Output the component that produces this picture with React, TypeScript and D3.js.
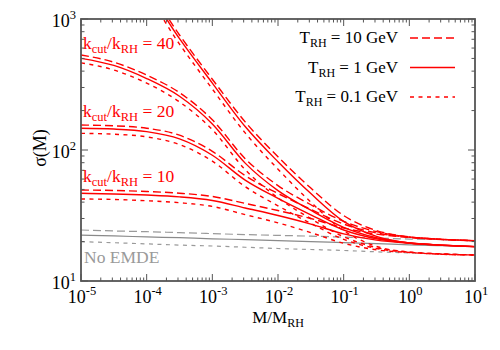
import React from "react";
import * as d3 from "d3";

// M / M_RH sample points
const MASS = [1e-5, 3.162e-5, 1e-4, 3.162e-4, 1e-3, 3.162e-3, 1e-2, 3.162e-2, 0.1, 0.3162, 1, 3.162, 10];

// sigma(M) series: [T_RH = 10 GeV (long dash), 1 GeV (solid), 0.1 GeV (short dash)]
const STEEP_10 = [3767, 2992, 1766, 755, 347, 164, 88.7, 51.2, 31.6, 24.3, 21.7, 20.8, 20.3];
const STEEP_1 = [3548, 2818, 1660, 708, 324, 151, 81.3, 46.5, 28.5, 21.9, 19.5, 18.8, 18.3];
const STEEP_01 = [3236, 2570, 1514, 643, 292, 135, 71.4, 40.0, 24.2, 18.4, 16.6, 16.1, 15.8];

const K40_10 = [531, 468, 373, 274, 170, 85.9, 53.5, 38.2, 28.5, 23.8, 21.7, 20.8, 20.3];
const K40_1 = [501, 442, 351, 257, 158, 79.4, 49.0, 34.7, 25.7, 21.4, 19.5, 18.8, 18.3];
const K40_01 = [463, 408, 324, 233, 143, 70.8, 43.1, 29.9, 21.8, 18.0, 16.6, 16.1, 15.8];

const K20_10 = [155, 153, 146.6, 129.7, 97.7, 63.7, 46.6, 35.2, 27.2, 23.3, 21.6, 20.8, 20.3];
const K20_1 = [146.6, 144.5, 138, 121.6, 91.2, 58.9, 42.7, 32.0, 24.5, 21.0, 19.5, 18.75, 18.3];
const K20_01 = [134, 132, 126, 110, 82.2, 52.5, 37.5, 27.5, 20.8, 17.7, 16.6, 16.0, 15.8];

const K10_10 = [49.5, 49.1, 48.2, 46.8, 44.2, 39.1, 34.5, 30.0, 25.4, 22.8, 21.5, 20.7, 20.3];
const K10_1 = [46.7, 46.2, 45.3, 43.9, 41.2, 36.1, 31.6, 27.2, 22.9, 20.5, 19.4, 18.7, 18.3];
const K10_01 = [42.3, 41.9, 41.0, 39.6, 37.1, 32.1, 27.8, 23.4, 19.4, 17.3, 16.5, 16.0, 15.8];

const NOEMDE_10 = [24.5, 24.1, 23.8, 23.4, 23.0, 22.6, 22.3, 22.0, 21.6, 21.3, 20.9, 20.7, 20.3];
const NOEMDE_1 = [22.4, 22.1, 21.7, 21.4, 21.0, 20.7, 20.3, 20.0, 19.6, 19.3, 18.9, 18.6, 18.3];
const NOEMDE_01 = [19.95, 19.6, 19.2, 18.8, 18.5, 18.1, 17.7, 17.4, 17.1, 16.7, 16.4, 16.1, 15.8];

const X_TICKS = [1e-5, 1e-4, 1e-3, 1e-2, 1e-1, 1, 10];
const X_TICK_EXP = ["-5", "-4", "-3", "-2", "-1", "0", "1"];
const Y_TICKS = [10, 100, 1000];
const Y_TICK_EXP = ["1", "2", "3"];

const LEGEND_LABELS = ["10", "1", "0.1"];
const K_LABELS = ["40", "20", "10"];

const RED = "#ff0000";
const GRAY = "#9a9a9a";
const GRAY_SOLID = "#8a8a8a";
const DASH_LONG = "8,4";
const DASH_SHORT = "4,4.5";
const FONT = "\"Liberation Serif\", \"Times New Roman\", Times, \"DejaVu Serif\", serif";

export default function App() {
  const L = 81, R = 475, T = 19, B = 281;
  const x = d3.scaleLog().domain([1e-5, 10]).range([L, R]);
  const y = d3.scaleLog().domain([10, 1000]).range([B, T]);
  const line = d3
    .line<number>()
    .x((_, i) => x(MASS[i]))
    .y((d) => y(d))
    .curve(d3.curveMonotoneX);

  const redSets = [
    [STEEP_10, STEEP_1, STEEP_01],
    [K40_10, K40_1, K40_01],
    [K20_10, K20_1, K20_01],
    [K10_10, K10_1, K10_01],
  ];
  const grayset = [NOEMDE_10, NOEMDE_1, NOEMDE_01];
  const dashes = [DASH_LONG, undefined, DASH_SHORT];

  const xMinor: number[] = [];
  for (let e = -5; e < 1; e++) for (let m = 2; m <= 9; m++) xMinor.push(m * Math.pow(10, e));
  const yMinor: number[] = [];
  for (let e = 1; e < 3; e++) for (let m = 2; m <= 9; m++) yMinor.push(m * Math.pow(10, e));

  const axisColor = "#555";
  const kLabelY = [49, 117, 182];
  const tstyle = { fontFamily: FONT };

  return (
    <svg width={500} height={350} style={{ position: "absolute", left: 0, top: 0, background: "#fff", fontFamily: FONT }}>
      <defs>
        <clipPath id="plot">
          <rect x={L} y={T} width={R - L} height={B - T} />
        </clipPath>
      </defs>
      <rect x={0} y={0} width={500} height={350} fill="#fff" />

      <g clipPath="url(#plot)">
        {grayset.map((s, i) => (
          <path key={"g" + i} d={line(s) || ""} fill="none" stroke={i === 1 ? GRAY_SOLID : GRAY} strokeWidth={1.2} strokeDasharray={dashes[i]} />
        ))}
        {redSets.map((set, j) =>
          set.map((s, i) => (
            <path key={"r" + j + i} d={line(s) || ""} fill="none" stroke={RED} strokeWidth={1.4} strokeDasharray={dashes[i]} />
          ))
        )}
      </g>

      <g stroke={axisColor} strokeWidth={1}>
        {X_TICKS.map((t, i) => (
          <g key={"xt" + i}>
            <line x1={x(t)} x2={x(t)} y1={B} y2={B - 7} />
            <line x1={x(t)} x2={x(t)} y1={T} y2={T + 7} />
          </g>
        ))}
        {xMinor.map((t, i) => (
          <g key={"xm" + i}>
            <line x1={x(t)} x2={x(t)} y1={B} y2={B - 3.5} />
            <line x1={x(t)} x2={x(t)} y1={T} y2={T + 3.5} />
          </g>
        ))}
        {Y_TICKS.map((t, i) => (
          <g key={"yt" + i}>
            <line x1={L} x2={L + 7} y1={y(t)} y2={y(t)} />
            <line x1={R} x2={R - 7} y1={y(t)} y2={y(t)} />
          </g>
        ))}
        {yMinor.map((t, i) => (
          <g key={"ym" + i}>
            <line x1={L} x2={L + 3.5} y1={y(t)} y2={y(t)} />
            <line x1={R} x2={R - 3.5} y1={y(t)} y2={y(t)} />
          </g>
        ))}
      </g>
      <rect x={L} y={T} width={R - L} height={B - T} fill="none" stroke={axisColor} strokeWidth={1.8} />

      {X_TICKS.map((t, i) => (
        <text key={"xl" + i} x={x(t) + 1} y={303} textAnchor="middle" fontSize={18} fill="#000" style={tstyle}>
          10<tspan dy={-8} fontSize={12.5}>{X_TICK_EXP[i]}</tspan>
        </text>
      ))}
      {Y_TICKS.map((t, i) => (
        <text key={"yl" + i} x={76} y={y(t) + 8} textAnchor="end" fontSize={18} fill="#000" style={tstyle}>
          10<tspan dy={-8} fontSize={12.5}>{Y_TICK_EXP[i]}</tspan>
        </text>
      ))}

      <text x={278} y={323} textAnchor="middle" fontSize={17} fill="#000" style={tstyle}>
        M/M<tspan dy={4} fontSize={12}>RH</tspan>
      </text>
      <text transform={`translate(46,${(T + B) / 2 - 2}) rotate(-90)`} textAnchor="middle" fontSize={18} fill="#000" style={tstyle}>
        σ(M)
      </text>

      {K_LABELS.map((k, i) => (
        <text key={"kl" + i} x={83} y={kLabelY[i]} fontSize={17.5} fill={RED} style={tstyle}>
          k<tspan dy={4} fontSize={12.5}>cut</tspan>
          <tspan dy={-4}>/k</tspan>
          <tspan dy={4} fontSize={12.5}>RH</tspan>
          <tspan dy={-4}> = {k}</tspan>
        </text>
      ))}
      <text x={84} y={263} fontSize={17.5} fill={GRAY} style={tstyle}>No EMDE</text>

      {LEGEND_LABELS.map((lab, i) => {
        const ly = 38 + i * 29.5;
        return (
          <g key={"lg" + i}>
            <text x={398} y={ly + 5} textAnchor="end" fontSize={17} fill="#000" style={tstyle}>
              T<tspan dy={4} fontSize={12}>RH</tspan>
              <tspan dy={-4}> = {lab} GeV</tspan>
            </text>
            <line x1={410} x2={455} y1={ly} y2={ly} stroke={RED} strokeWidth={1.4} strokeDasharray={dashes[i]} />
          </g>
        );
      })}
    </svg>
  );
}
